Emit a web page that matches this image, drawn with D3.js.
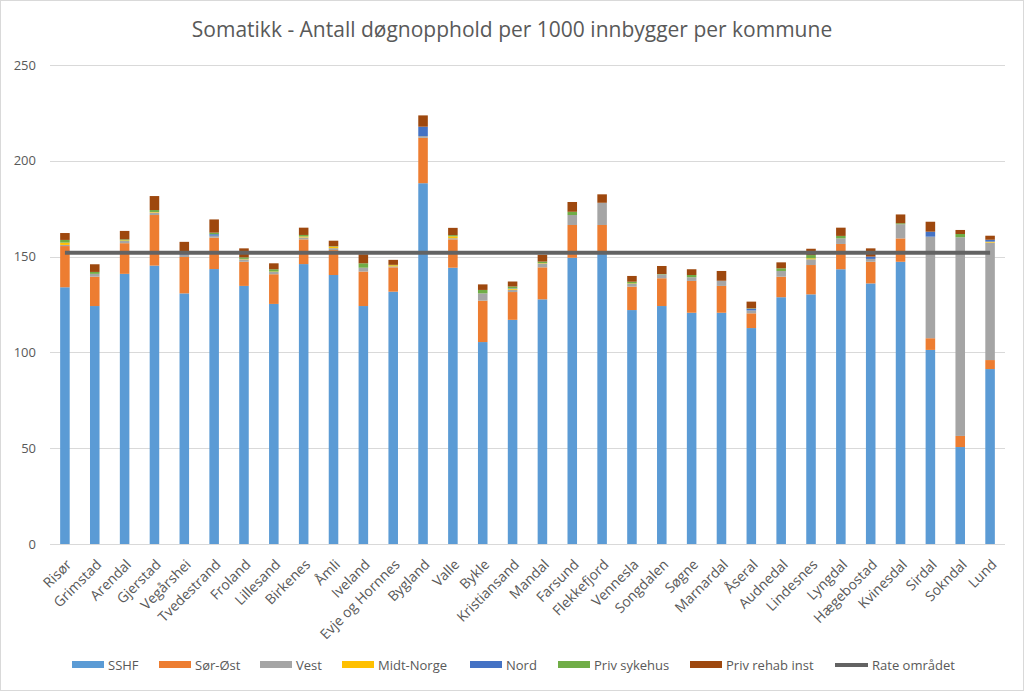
<!DOCTYPE html>
<html><head><meta charset="utf-8">
<script src="https://cdn.jsdelivr.net/npm/d3@7"></script>
<style>body{margin:0;background:#fff}svg{display:block}text{font-family:"Open Sans",sans-serif}</style>
</head><body>
<svg id="c" width="1024" height="691"></svg>
<script>
const categories = ["Risør","Grimstad","Arendal","Gjerstad","Vegårshei","Tvedestrand","Froland","Lillesand","Birkenes","Åmli","Iveland","Evje og Hornnes","Bygland","Valle","Bykle","Kristiansand","Mandal","Farsund","Flekkefjord","Vennesla","Songdalen","Søgne","Marnardal","Åseral","Audnedal","Lindesnes","Lyngdal","Hægebostad","Kvinesdal","Sirdal","Sokndal","Lund"];
const sshf        = [134,124.2,141,145.3,130.8,143.5,134.7,125.3,146.1,140.4,124.2,131.7,188.3,144.2,105.4,117,127.7,149.4,152.5,122.1,124.2,120.7,120.7,112.7,128.8,130.3,143.4,136,147.3,101.3,50.6,91.3];
const sorOst      = [21.5,15.3,16,26.4,19,16.4,12.6,15.5,12.9,13,18,12.7,23.7,14.8,21.6,14.5,16.7,17.1,14,12.2,14.5,16.6,14,7.7,10.7,15.3,13.2,11.3,12.2,6.1,5.8,4.7];
const vest        = [0.6,1.5,1.2,1.3,1.2,1,1.3,1.2,1,1,2,0.5,0.9,0.6,3.8,1.2,2,5.2,11.6,1.5,2,1.9,2.7,1.5,3,3,2.9,1.5,7.4,53,103.7,61.3];
const midtNorge   = [1.2,0,0.3,0.3,0,0,0.2,0.2,0.5,0.8,0,0.6,0,1,0,0.5,0.2,0,0,0.2,0,0,0,0,0,0.5,0,0,0,0,0,0.5];
const nord        = [0,0,0,0,0.8,0.8,0,0,0,0,0,0,4.9,0,0,0.2,0,0,0,0,0,0,0,0.9,0,0,0,1.2,0,2.6,0,1];
const privSykehus = [1.4,1,0.5,1,0.3,0.8,0.8,1.2,0.8,0.2,2.3,0.2,0,0.6,1.8,1,0.8,1.7,0,0.9,0.2,1.2,0,0.2,1.4,1.7,1.3,0,0.5,0,1.7,0];
const privRehab   = [3.6,4,4.4,7.3,5.6,6.9,4.7,3.1,3.8,2.9,4.7,2.6,5.9,3.8,2.9,2.6,3.6,5.1,4.4,3,4.2,3,5.1,3.5,3.1,3.3,4.3,4.3,4.6,5.2,2.1,2.1];
const rateOmradet = 152;
const seriesNames = ["SSHF","Sør-Øst","Vest","Midt-Norge","Nord","Priv sykehus","Priv rehab inst"];
const seriesData  = [sshf,sorOst,vest,midtNorge,nord,privSykehus,privRehab];
const seriesColors = ["#5b9bd5","#ed7d31","#a5a5a5","#ffc000","#4472c4","#70ad47","#9e480e"];
const yTicks = [0,50,100,150,200,250];
const title = "Somatikk - Antall døgnopphold per 1000 innbygger per kommune";

const svg = d3.select("#c");
svg.append("rect").attr("x",0.5).attr("y",0.5).attr("width",1023).attr("height",690).attr("fill","#fff").attr("stroke","#d9d9d9");

const L=50,R=1005,T=65,B=544;
const x = d3.scaleBand().domain(categories).range([L,R]).paddingInner(0.68).paddingOuter(0.34);
const y = d3.scaleLinear().domain([0,250]).range([B,T]);

svg.append("text").attr("x",512).attr("y",37).attr("text-anchor","middle").attr("font-size",21).attr("fill","#595959").text(title);

svg.append("g").selectAll("line").data(yTicks.slice(1)).join("line")
  .attr("x1",L).attr("x2",R).attr("y1",d=>Math.round(y(d))+0.5).attr("y2",d=>Math.round(y(d))+0.5)
  .attr("stroke","#d9d9d9").attr("stroke-width",1);

const yAxis = svg.append("g").attr("transform",`translate(${L},0)`)
  .call(d3.axisLeft(y).tickValues(yTicks).tickSize(0).tickPadding(14));
yAxis.select(".domain").remove();
yAxis.selectAll("text").attr("font-size",13).attr("fill","#595959").attr("font-family","Open Sans");

const rows = categories.map((c,i)=>{const o={cat:c}; seriesNames.forEach((s,j)=>o[s]=seriesData[j][i]); return o;});
const stack = d3.stack().keys(seriesNames)(rows);
svg.append("g").selectAll("g").data(stack).join("g").attr("fill",(d,i)=>seriesColors[i])
  .selectAll("rect").data(d=>d).join("rect")
  .attr("x",d=>x(d.data.cat)).attr("width",x.bandwidth())
  .attr("y",d=>y(d[1])).attr("height",d=>Math.max(0,y(d[0])-y(d[1])));

svg.append("line").attr("x1",L).attr("x2",R).attr("y1",B+0.5).attr("y2",B+0.5).attr("stroke","#d9d9d9");

const cx = c => x(c)+x.bandwidth()/2;
svg.append("path").datum(categories).attr("fill","none").attr("stroke","#636363").attr("stroke-width",4)
  .attr("d",d3.line().x(c=>cx(c)).y(()=>y(rateOmradet)));

const xAxis = svg.append("g").attr("transform",`translate(0,${B})`)
  .call(d3.axisBottom(x).tickSize(0));
xAxis.select(".domain").remove();
xAxis.selectAll("text").attr("font-size",14).attr("fill","#595959").attr("font-family","Open Sans")
  .attr("text-anchor","end").attr("dy","0.35em")
  .attr("transform","translate(4,18) rotate(-45)").attr("x",0).attr("y",0);

const legX = [72,159,260,342,470,558,690];
const lg = svg.append("g");
seriesNames.forEach((s,i)=>{
  lg.append("rect").attr("x",legX[i]).attr("y",661).attr("width",32).attr("height",7).attr("fill",seriesColors[i]);
  lg.append("text").attr("x",legX[i]+36).attr("y",665).attr("dy","0.35em").attr("font-size",13).attr("fill","#595959").text(s);
});
lg.append("line").attr("x1",835).attr("x2",868).attr("y1",665).attr("y2",665).attr("stroke","#636363").attr("stroke-width",4);
lg.append("text").attr("x",872).attr("y",665).attr("dy","0.35em").attr("font-size",13).attr("fill","#595959").text("Rate området");
</script>
</body></html>
